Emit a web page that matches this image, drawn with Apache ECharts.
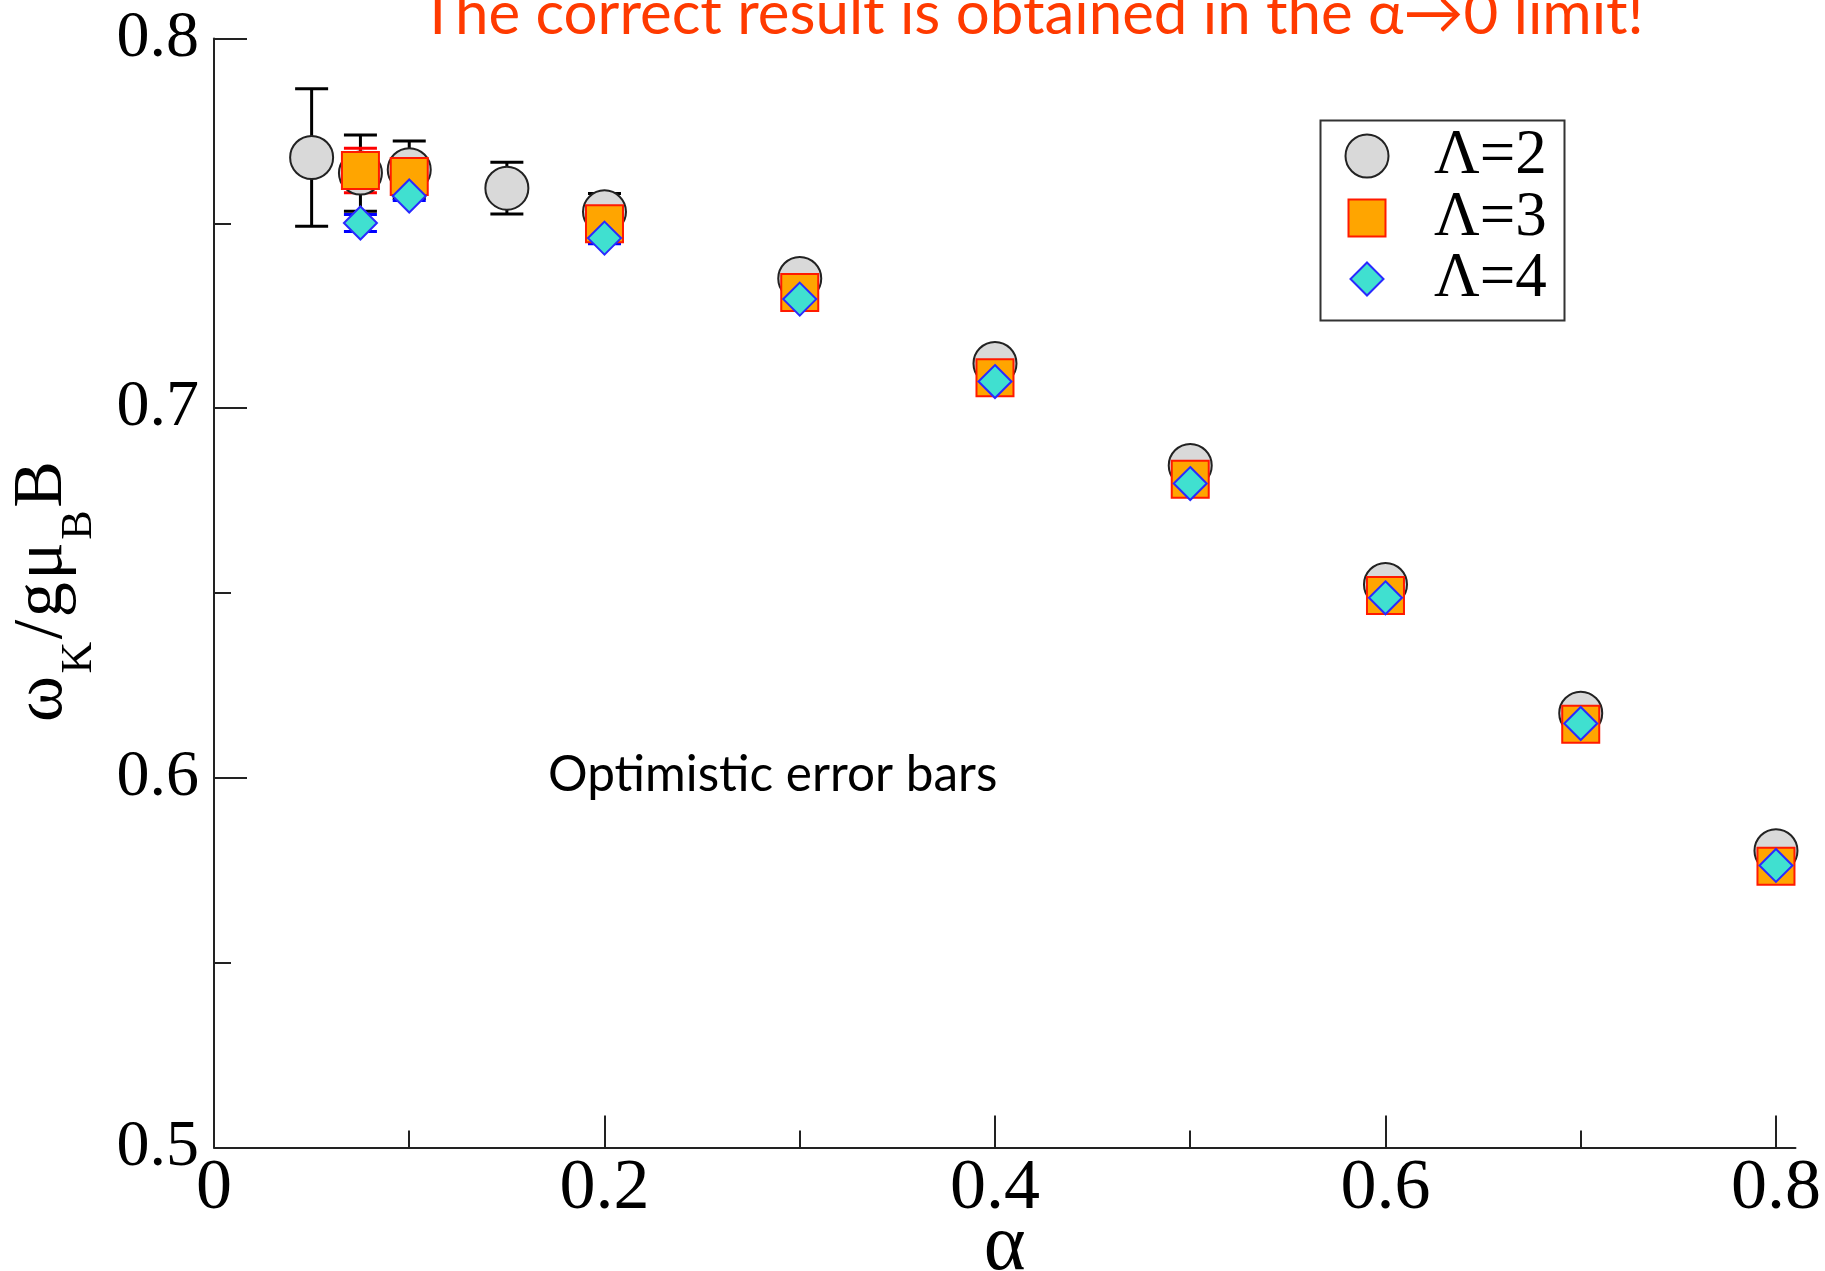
<!DOCTYPE html>
<html>
<head>
<meta charset="utf-8">
<script src="https://cdn.jsdelivr.net/npm/echarts@6/dist/echarts.min.js"></script>
<style>
  html, body { margin: 0; padding: 0; background: #ffffff; }
  #chart { width: 1825px; height: 1271px; }
</style>
</head>
<body>
<div id="chart"></div>
<script>
// Kondo scale ω_K / gμ_B B versus α for three values of Λ, with error bars
const alphaL2 = [0.05, 0.075, 0.1, 0.15, 0.2, 0.3, 0.4, 0.5, 0.6, 0.7, 0.8];
const omegaL2 = [0.7678, 0.7636, 0.7645, 0.7595, 0.7531, 0.7351, 0.7121, 0.6845, 0.6523, 0.6175, 0.5803];
const errL2   = [0.0186, 0.0103, 0.0078, 0.0070, 0.0050, 0.0030, 0.0030, 0.0030, 0.0030, 0.0030, 0.0030];

const alphaL3 = [0.075, 0.1, 0.2, 0.3, 0.4, 0.5, 0.6, 0.7, 0.8];
const omegaL3 = [0.7643, 0.7627, 0.7499, 0.7313, 0.7082, 0.6808, 0.6493, 0.6145, 0.5761];
const errL3   = [0.0060, 0.0045, 0.0030, 0.0030, 0.0030, 0.0030, 0.0030, 0.0030, 0.0030];

const alphaL4 = [0.075, 0.1, 0.2, 0.3, 0.4, 0.5, 0.6, 0.7, 0.8];
const omegaL4 = [0.7501, 0.7574, 0.7460, 0.7295, 0.7072, 0.6796, 0.6487, 0.6147, 0.5763];
const errL4   = [0.0023, 0.0012, 0.0015, 0.0015, 0.0015, 0.0015, 0.0015, 0.0015, 0.0015];

const seriesNames = ['Λ=2', 'Λ=3', 'Λ=4'];
const xMajorTicks = [0, 0.2, 0.4, 0.6, 0.8];
const xMinorTicks = [0.1, 0.3, 0.5, 0.7];
const titleText = 'The correct result is obtained in the α→0 limit!';
const noteText = 'Optimistic error bars';

const SERIF = '"Liberation Serif", "Times New Roman", serif';
const SANS = 'Lato, "Open Sans", sans-serif';

const styles = [
  { symbol: 'circle',  size: 43, fill: '#d9d9d9', edge: '#222222', bar: '#000000' },
  { symbol: 'rect',    size: 37, fill: '#ffa500', edge: '#ff1a00', bar: '#ff0000' },
  { symbol: 'diamond', size: 33, fill: '#40e0d0', edge: '#2a2aff', bar: '#0000ff' }
];

const sets = [
  { x: alphaL2, y: omegaL2, e: errL2 },
  { x: alphaL3, y: omegaL3, e: errL3 },
  { x: alphaL4, y: omegaL4, e: errL4 }
];

function errorBarSeries(set, st, name) {
  const data = set.x.map((a, i) => [a, set.y[i] - set.e[i], set.y[i] + set.e[i]]);
  const capHalf = 16.5;
  return {
    type: 'custom',
    name: name,
    data: data,
    encode: { x: 0, y: [1, 2] },
    silent: true,
    renderItem: function (params, api) {
      const a = api.value(0);
      const lo = api.coord([a, api.value(1)]);
      const hi = api.coord([a, api.value(2)]);
      const ls = { stroke: st.bar, lineWidth: 3 };
      return {
        type: 'group',
        children: [
          { type: 'line', shape: { x1: lo[0], y1: lo[1], x2: hi[0], y2: hi[1] }, style: ls },
          { type: 'line', shape: { x1: lo[0] - capHalf, y1: lo[1], x2: lo[0] + capHalf, y2: lo[1] }, style: ls },
          { type: 'line', shape: { x1: hi[0] - capHalf, y1: hi[1], x2: hi[0] + capHalf, y2: hi[1] }, style: ls }
        ]
      };
    }
  };
}

function markerSeries(set, st, name) {
  return {
    type: 'scatter',
    name: name,
    data: set.x.map((a, i) => [a, set.y[i]]),
    symbol: st.symbol,
    symbolSize: st.size,
    itemStyle: { color: st.fill, borderColor: st.edge, borderWidth: 2, opacity: 1 },
    emphasis: { disabled: true }
  };
}

const series = [];
sets.forEach((set, i) => {
  series.push(errorBarSeries(set, styles[i], seriesNames[i]));
  series.push(markerSeries(set, styles[i], seriesNames[i]));
});

// legend: one block per entry so each symbol keeps its own size
const legendIconX = 1366, legendTextX = 1433, legendRows = [156, 218, 279];
const legends = styles.map((st, i) => ({
  data: [{ name: seriesNames[i], icon: st.symbol,
           itemStyle: { color: st.fill, borderColor: st.edge, borderWidth: 2 } }],
  left: legendIconX - st.size / 2,
  top: legendRows[i] - 31.5,
  padding: 0,
  itemWidth: st.size,
  itemHeight: st.size,
  selectedMode: false,
  textStyle: {
    fontFamily: SERIF, fontSize: 63, lineHeight: 63, color: '#000',
    padding: [0, 0, 0, legendTextX - (legendIconX - st.size / 2) - st.size - 5]
  }
}));

// rotated y-axis title ω_K / gμ_B B, laid out glyph by glyph
const measureCtx = document.createElement('canvas').getContext('2d');
function textWidth(str, size) {
  measureCtx.font = size + 'px ' + SERIF;
  return measureCtx.measureText(str).width;
}
const yNameParts = [['ω', false], ['K', true], ['/', false], ['g', false], ['μ', false], ['B', true], ['B', false]];
const mainSize = 70, subSize = 44, subDrop = 28, midToBase = 0.3375, glyphGap = 2.5;
let cursor = 0;
const yNameChildren = yNameParts.map(([ch, sub]) => {
  const size = sub ? subSize : mainSize;
  const el = {
    type: 'text',
    x: cursor,
    y: (sub ? subDrop : 0) - midToBase * size,
    style: { text: ch, font: size + 'px ' + SERIF, fill: '#000', align: 'left', verticalAlign: 'middle' }
  };
  cursor += textWidth(ch, size) + glyphGap;
  return el;
});

const sansMidToBase = 0.331;

const chart = echarts.init(document.getElementById('chart'), null, { renderer: 'canvas' });
chart.setOption({
  animation: false,
  backgroundColor: '#ffffff',
  grid: { left: 214, right: 29.5, top: 38.5, bottom: 123.5, containLabel: false, outerBoundsMode: 'none' },
  legend: legends,
  xAxis: [
    {
      type: 'value', min: 0, max: 0.81,
      name: 'α', nameLocation: 'middle', nameGap: 60, nameMoveOverlap: false,
      nameTextStyle: { fontFamily: SERIF, fontSize: 80, color: '#000' },
      axisLine: { show: true, onZero: false, lineStyle: { color: '#222', width: 2 } },
      axisTick: { show: true, inside: true, length: 32, lineStyle: { color: '#222', width: 2 }, customValues: xMajorTicks },
      axisLabel: { show: true, margin: 6, fontFamily: SERIF, fontSize: 72, color: '#000', customValues: xMajorTicks },
      splitLine: { show: false }
    },
    {
      type: 'value', min: 0, max: 0.81, position: 'bottom', gridIndex: 0,
      axisLine: { show: false },
      axisTick: { show: true, inside: true, length: 17, lineStyle: { color: '#222', width: 2 }, customValues: xMinorTicks },
      axisLabel: { show: false },
      splitLine: { show: false }
    }
  ],
  yAxis: {
    type: 'value', min: 0.5, max: 0.8, interval: 0.1,
    axisLine: { show: true, onZero: false, lineStyle: { color: '#222', width: 2 } },
    axisTick: { show: true, inside: true, length: 33, lineStyle: { color: '#222', width: 2 } },
    minorTick: { show: true, splitNumber: 2, length: 17, lineStyle: { color: '#222', width: 2 } },
    axisLabel: { margin: 15, fontFamily: SERIF, fontSize: 66, color: '#000' },
    splitLine: { show: false },
    minorSplitLine: { show: false }
  },
  series: series,
  graphic: [
    { type: 'rect', left: 1318, top: 118, silent: true,
      shape: { width: 244, height: 200 },
      style: { fill: 'none', stroke: '#333', lineWidth: 2 } },
    { type: 'group', x: 66, y: 722, rotation: Math.PI / 2, silent: true, children: yNameChildren },
    { type: 'text', x: 420, y: 35 - sansMidToBase * 60, silent: true,
      style: { text: titleText, font: '60px ' + SANS, fill: '#ff3a00', align: 'left', verticalAlign: 'middle' } },
    { type: 'text', x: 548, y: 791 - sansMidToBase * 49.5, silent: true,
      style: { text: noteText, font: '49.5px ' + SANS, fill: '#000', align: 'left', verticalAlign: 'middle' } }
  ]
});
</script>
</body>
</html>
